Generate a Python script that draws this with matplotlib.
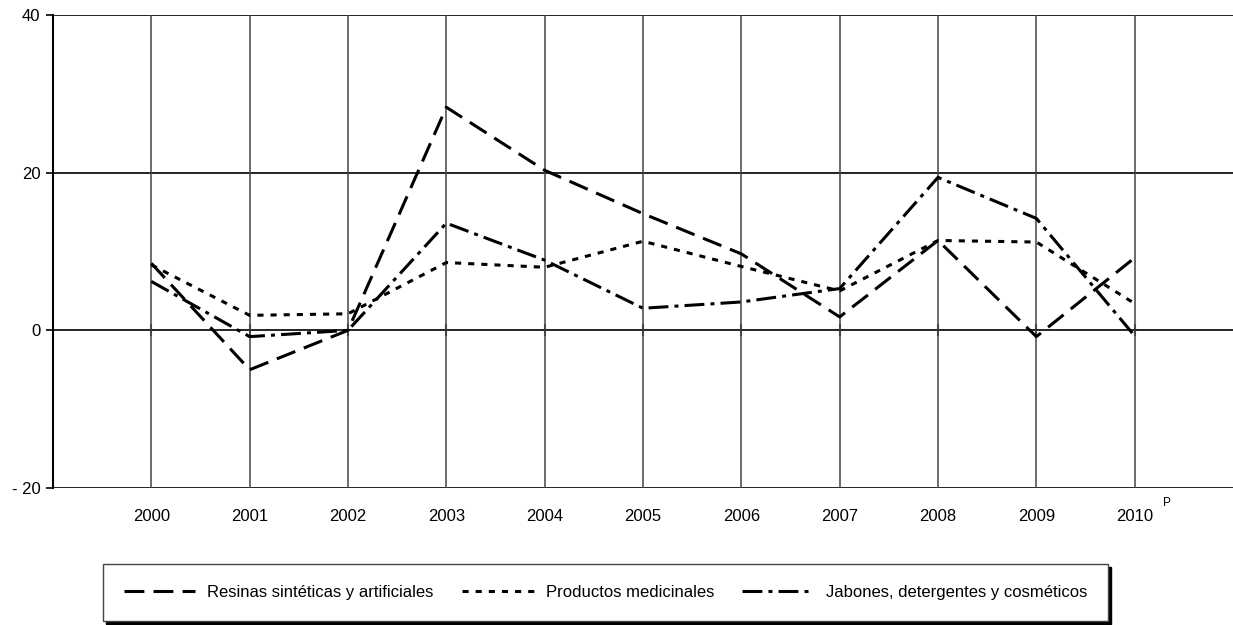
import numpy as np
import matplotlib
matplotlib.use("Agg")
import matplotlib.pyplot as plt

plt.rcParams['font.family'] = ['Liberation Sans', 'DejaVu Sans']

# Data
years = [2000, 2001, 2002, 2003, 2004, 2005, 2006, 2007, 2008, 2009, 2010]
year_labels = ["2000", "2001", "2002", "2003", "2004", "2005",
               "2006", "2007", "2008", "2009", "2010"]
resinas = [8.5, -5.0, 0.0, 28.3, 20.3, 14.8, 9.7, 1.7, 11.4, -0.8, 9.2]
productos = [8.3, 1.9, 2.1, 8.6, 8.0, 11.3, 8.1, 5.0, 11.4, 11.2, 3.4]
jabones = [6.2, -0.8, 0.0, 13.6, 8.9, 2.8, 3.6, 5.3, 19.4, 14.2, -0.7]
y_ticks = [-20, 0, 20, 40]
y_tick_labels = ["- 20", "0", "20", "40"]
series_names = ["Resinas sintéticas y artificiales",
                "Productos medicinales",
                "Jabones, detergentes y cosméticos"]

fig = plt.figure(figsize=(12.33, 6.25), dpi=100)
ax = fig.add_axes([53/1233, 137/625, 1180/1233, 473/625])

lw = 2.2
ax.plot(years, resinas, color='black', lw=lw, dashes=(6.5, 3),
        label=series_names[0], zorder=3)
ax.plot(years, productos, color='black', lw=lw, dashes=(2, 2.3),
        label=series_names[1], zorder=3)
ax.plot(years, jabones, color='black', lw=lw, dashes=(6.5, 2, 1.3, 2),
        label=series_names[2], zorder=3)

ax.set_xlim(1999, 2011)
ax.set_ylim(-20, 40)

# grid
for yv in y_ticks:
    ax.axhline(yv, color='black', lw=1.2, zorder=1)
for xv in years:
    ax.axvline(xv, color='#444444', lw=1.1, zorder=1)

for s in ['top', 'right', 'bottom']:
    ax.spines[s].set_visible(False)
ax.spines['left'].set_linewidth(1.5)

ax.set_yticks(y_ticks)
ax.set_yticklabels(y_tick_labels, fontsize=12)
ax.tick_params(axis='y', direction='out', length=5, width=1.2, pad=4)

ax.set_xticks(years)
ax.set_xticklabels(year_labels, fontsize=12)
ax.tick_params(axis='x', length=0, pad=15)

# tick marks across the zero line
sec = ax.secondary_xaxis(1/3)
sec.set_xticks(years)
sec.set_xticklabels([])
sec.tick_params(direction='inout', length=8, width=1.5, color='#555555')
sec.spines['bottom'].set_visible(False)
sec.spines['top'].set_visible(False)

ax.text(2010.33, -0.032, "P", transform=ax.get_xaxis_transform(),
        fontsize=8.5, ha='center', va='center')

leg = fig.legend(loc='center', bbox_to_anchor=(605.5/1233, 1 - 592.5/625),
                 ncol=3, fontsize=12, frameon=True, fancybox=False,
                 handlelength=4.3, handletextpad=0.72, columnspacing=1.7,
                 borderpad=1.25, framealpha=1,
                 shadow={'color': 'black', 'alpha': 1})
leg.get_frame().set_edgecolor('#444444')
leg.get_frame().set_linewidth(1.0)

fig.savefig("out.png", dpi=100)
